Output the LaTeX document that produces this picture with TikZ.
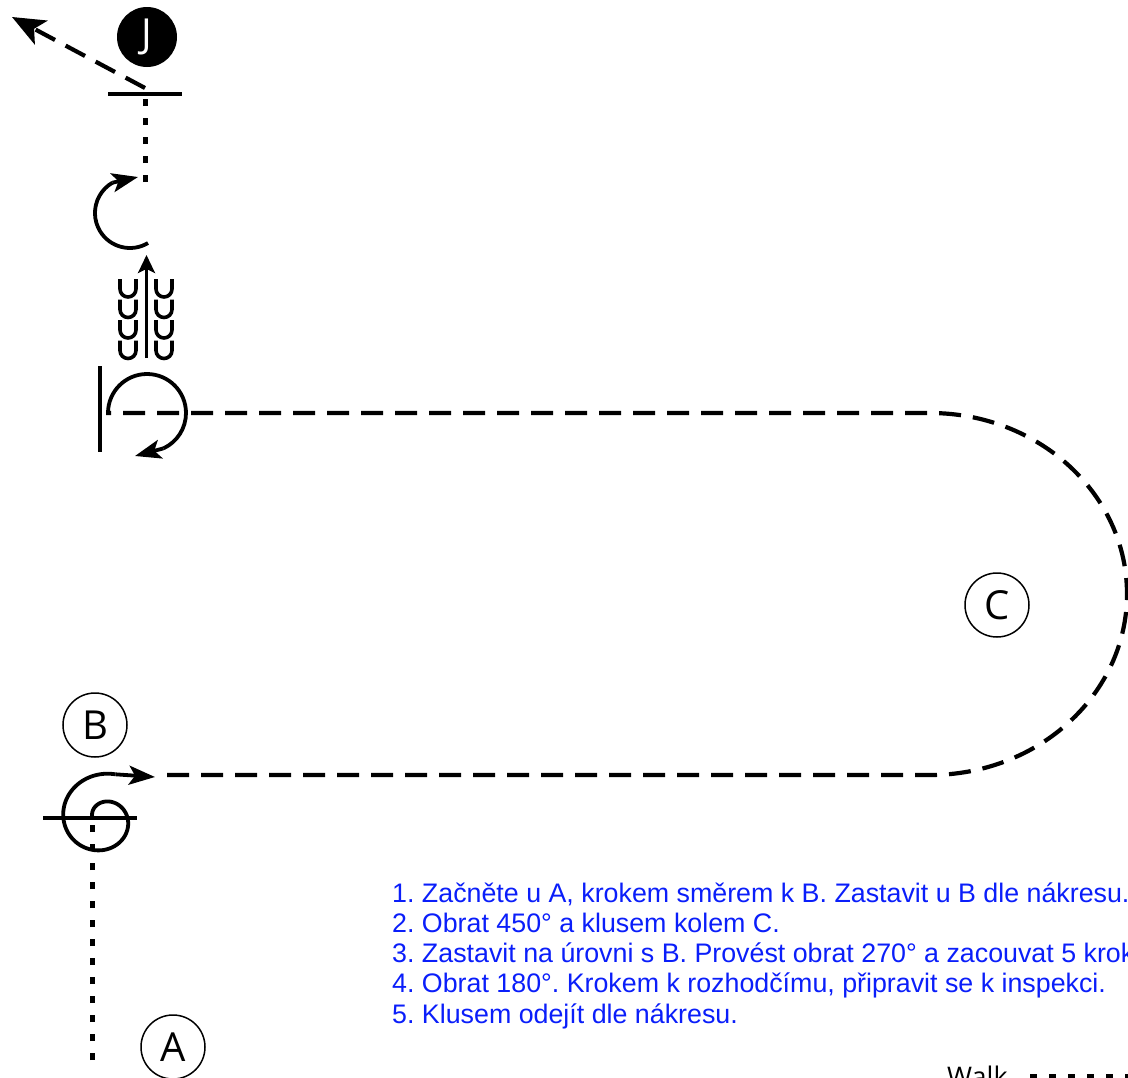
\documentclass[tikz,border=0pt]{standalone}
\usepackage{fontspec}
\usetikzlibrary{arrows.meta}
\newfontfamily\lettfont{Open Sans}
\newfontfamily\txtfont{Liberation Sans}
\definecolor{txtblue}{RGB}{10,30,250}
\frenchspacing
\tikzset{
 walkline/.style={line width=5bp, dash pattern=on 7bp off 12bp},
 trotline/.style={line width=4.2bp, dash pattern=on 22bp off 12bp},
 turnline/.style={line width=3.8bp},
 barline/.style={line width=4bp},
 headA/.style={-{Stealth[length=26bp,width=19bp,inset=6bp]}},
 headS/.style={-{Stealth[length=18bp,width=17bp,inset=4bp]}},
 headBig/.style={-{Stealth[length=33bp,width=27bp,inset=8bp]}},
 letter/.style={circle, draw, line width=1.5bp, minimum size=64bp, inner sep=0pt, font=\lettfont\fontsize{40bp}{40bp}\selectfont},
 judge/.style={circle, fill=black, minimum size=60bp, inner sep=0pt, text=white, font=\lettfont\fontsize{40bp}{40bp}\selectfont},
 instr/.style={anchor=base west, inner sep=0pt, text=txtblue, font=\txtfont\fontsize{26.8bp}{30bp}\selectfont},
 legendtxt/.style={anchor=base west, inner sep=0pt, font=\lettfont\fontsize{27bp}{27bp}\selectfont},
}
\begin{document}
\begin{tikzpicture}[x=1bp,y=-1bp]
\useasboundingbox (0,0) rectangle (1128,1078);
\clip (0,0) rectangle (1128,1078);

% letters
\node[letter] (A) at (173,1047) {A};
\node[letter] (B) at (95,725) {B};
\node[letter] (C) at (997,605) {C};
\node[judge] (J) at (147,37) {J};

% walk from A to B
\coordinate (start) at (92,1060);
\coordinate (sp0) at (92,819);
\draw[walkline] (start) -- (sp0);
% halt bar at B
\coordinate (bL) at (43,818);
\coordinate (bR) at (137,818);
\draw[barline] (bL) -- (bR);
% spiral turn 450
\draw[turnline] plot[domain=180:645, samples=140, smooth] ({103+(10+0.082*(\x-180))*cos(\x)}, {819+(10+0.078*(\x-180))*sin(\x)}) coordinate (spEnd);
\coordinate (spTip) at (155,777);
\draw[turnline, headA] (spEnd) -- (spTip);

% trot around C
\coordinate (t0) at (167,775);
\coordinate (t1) at (930,775);
\coordinate (t3) at (106,413);
\draw[trotline] (t0) -- (t1) arc[start angle=90, end angle=-90, x radius=197, y radius=181] -- (t3);

% halt bar and 270 turn
\coordinate (hbT) at (100,366);
\coordinate (hbB) at (100,452);
\draw[barline] (hbT) -- (hbB);
\coordinate (tStart) at (108,413);
\coordinate (tTip) at (135,456);
\draw[turnline] (tStart) arc[start angle=180, end angle=425, radius=39] coordinate (tEnd);
\draw[turnline, headA] (tEnd) -- (tTip);

% rein back
\coordinate (bk0) at (146.5,358);
\coordinate (bk1) at (146.5,255);
\draw[line width=3.2bp, headS] (bk0) -- (bk1);
\foreach \r in {0,1,2,3}{
  \foreach \cx in {128,164}{
    \draw[line width=3.6bp] (\cx-8,279+20.5*\r) -- ++(0,10) arc[start angle=180, end angle=0, radius=8] -- ++(0,-10);
  }
}

% 180 turn
\coordinate (cStart) at (148,243);
\coordinate (cTip) at (138,177);
\draw[turnline] (cStart) arc[start angle=59, end angle=240, radius=35] coordinate (cEnd);
\draw[turnline, headA] (cEnd) -- (cTip);

% walk to judge
\coordinate (w0) at (145,182);
\coordinate (w1) at (145,97);
\draw[walkline] (w0) -- (w1);
\coordinate (jbL) at (108,94);
\coordinate (jbR) at (182,94);
\draw[barline] (jbL) -- (jbR);

% exit
\coordinate (x0) at (145,88);
\coordinate (x1) at (12,17);
\draw[trotline, headBig] (x0) -- (x1);

% legend
\node[legendtxt] (walkLbl) at (947,1086) {Walk};
\coordinate (lg0) at (1030,1076);
\coordinate (lg1) at (1160,1076);
\draw[walkline] (lg0) -- (lg1);

% instructions
\node[instr] (l1) at (392,902) {1. Začněte u A, krokem směrem k B. Zastavit u B dle nákresu.};
\node[instr] (l2) at (392,932.25) {2. Obrat 450° a klusem kolem C.};
\node[instr] (l3) at (392,962.5) {3. Zastavit na úrovni s B. Provést obrat 270° a zacouvat 5 kroků.};
\node[instr] (l4) at (392,992.75) {4. Obrat 180°. Krokem k rozhodčímu, připravit se k inspekci.};
\node[instr] (l5) at (392,1023) {5. Klusem odejít dle nákresu.};
\end{tikzpicture}
\end{document}
